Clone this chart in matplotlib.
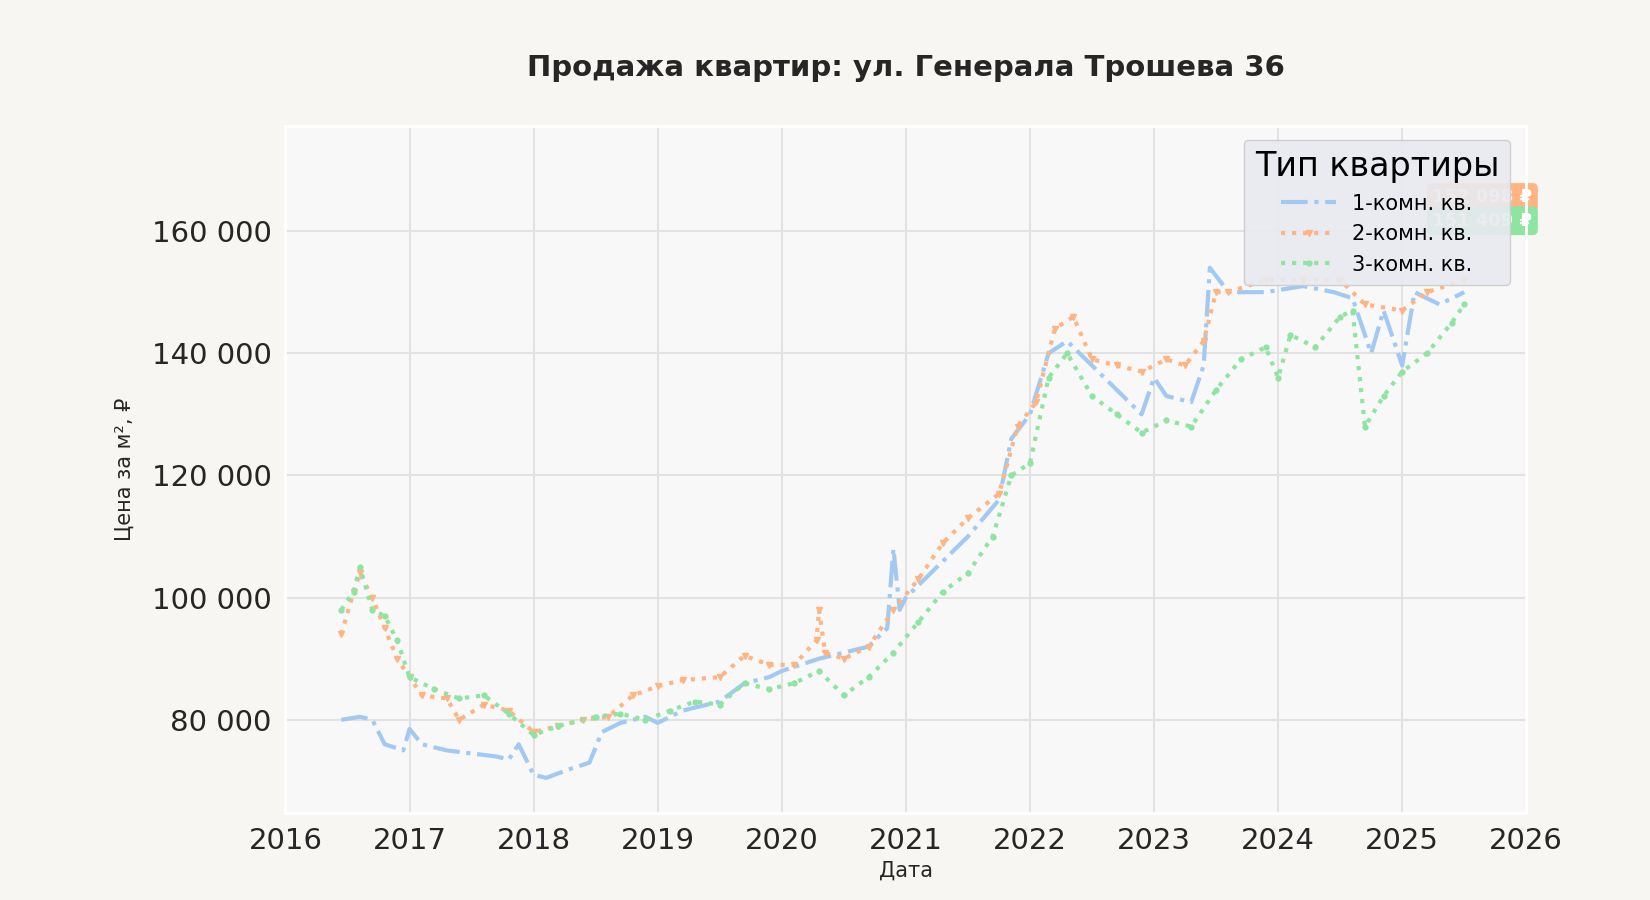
import matplotlib.pyplot as plt
from matplotlib.ticker import FuncFormatter

# даты (десятичные годы) и цены за м²
dates_1 = [2016.45, 2016.6, 2016.7, 2016.8, 2016.95, 2017.0, 2017.1, 2017.3, 2017.5, 2017.7, 2017.8,
           2017.88, 2018.0, 2018.1, 2018.3, 2018.45, 2018.55, 2018.7, 2018.9, 2019.0, 2019.2, 2019.5,
           2019.7, 2019.9, 2020.0, 2020.3, 2020.5, 2020.7, 2020.85, 2020.9, 2020.95, 2021.0, 2021.3,
           2021.5, 2021.75, 2021.85, 2022.0, 2022.15, 2022.3, 2022.5, 2022.7, 2022.9, 2023.0, 2023.1,
           2023.3, 2023.4, 2023.45, 2023.6, 2023.9, 2024.2, 2024.45, 2024.6, 2024.75, 2024.85, 2025.0,
           2025.1, 2025.3, 2025.5]
price_1 = [80000, 80500, 80000, 76000, 75000, 78500, 76000, 75000, 74500, 74000, 73500,
           76000, 71000, 70500, 72000, 73000, 78000, 79500, 80500, 79500, 81500, 83000,
           86000, 87000, 88000, 90000, 91000, 92000, 95000, 108000, 98000, 100000, 106000,
           110000, 116000, 126000, 130000, 140000, 142000, 138000, 134000, 130000, 136000, 133000,
           132000, 138000, 154000, 150000, 150000, 151000, 150000, 149000, 140000, 147000, 138000,
           150000, 148000, 150000]

dates_2 = [2016.45, 2016.55, 2016.6, 2016.7, 2016.8, 2016.9, 2017.0, 2017.1, 2017.3, 2017.4, 2017.6,
           2017.8, 2018.0, 2018.2, 2018.4, 2018.6, 2018.8, 2019.0, 2019.2, 2019.5, 2019.7, 2019.9,
           2020.1, 2020.28, 2020.3, 2020.35, 2020.5, 2020.7, 2020.9, 2021.1, 2021.3, 2021.5, 2021.75,
           2021.9, 2022.05, 2022.2, 2022.35, 2022.5, 2022.7, 2022.9, 2023.1, 2023.25, 2023.4, 2023.5,
           2023.6, 2023.9, 2024.2, 2024.5, 2024.7, 2025.0, 2025.2, 2025.5]
price_2 = [94000, 101000, 104000, 100000, 95000, 90000, 87000, 84000, 83500, 80000, 82500,
           81500, 78000, 79000, 80000, 80500, 84000, 85500, 86500, 87000, 90500, 89000,
           89000, 93000, 98000, 91000, 90000, 92000, 98000, 103000, 109000, 113000, 117000,
           128000, 132000, 144000, 146000, 139000, 138000, 137000, 139000, 138000, 142000, 150000,
           150000, 152000, 152000, 152000, 148000, 147000, 150000, 152000]

dates_3 = [2016.45, 2016.55, 2016.6, 2016.7, 2016.8, 2016.9, 2017.0, 2017.2, 2017.4, 2017.6, 2017.8,
           2018.0, 2018.2, 2018.5, 2018.7, 2018.9, 2019.1, 2019.3, 2019.5, 2019.7, 2019.9, 2020.1,
           2020.3, 2020.5, 2020.7, 2020.9, 2021.1, 2021.3, 2021.5, 2021.7, 2021.85, 2022.0, 2022.15,
           2022.3, 2022.5, 2022.7, 2022.9, 2023.1, 2023.3, 2023.5, 2023.7, 2023.9, 2024.0, 2024.1,
           2024.3, 2024.5, 2024.6, 2024.7, 2024.85, 2025.0, 2025.2, 2025.4, 2025.5]
price_3 = [98000, 101000, 105000, 98000, 97000, 93000, 87000, 85000, 83500, 84000, 81000,
           77500, 79000, 80500, 81000, 80000, 81500, 83000, 82500, 86000, 85000, 86000,
           88000, 84000, 87000, 91000, 96000, 101000, 104000, 110000, 120000, 122000, 136000,
           140000, 133000, 130000, 127000, 129000, 128000, 134000, 139000, 141000, 136000, 143000,
           141000, 146000, 147000, 128000, 133000, 137000, 140000, 145000, 148000]

labels = ["1-комн. кв.", "2-комн. кв.", "3-комн. кв."]
end_labels = ["", "152 098 ₽", "151 409 ₽"]

colors = ["#a1c9f4", "#ffb482", "#8de5a1"]
styles = [dict(linestyle="-.", marker=None),
          dict(linestyle=":", marker="v", markersize=4),
          dict(linestyle=":", marker="o", markersize=3.5)]

plt.rcParams["font.family"] = ["DejaVu Sans"]

fig = plt.figure(figsize=(16.5, 9), dpi=100, facecolor="#f7f6f2")
ax = fig.add_axes([0.173, 0.097, 0.752, 0.763], facecolor="#f8f8f8")

series = [(dates_1, price_1), (dates_2, price_2), (dates_3, price_3)]
for (x, y), lab, c, st in zip(series, labels, colors, styles):
    ax.plot(x, y, color=c, lw=3, label=lab, **st)

# подписи последних значений (под легендой, как в оригинале)
for (x, y), lab, c, off in zip(series, end_labels, colors, [0, 13500, 13700]):
    if lab:
        ax.text(2026.05, y[-1] + off, lab, color="white", fontsize=13, fontweight="bold",
                ha="right", va="center", zorder=2, clip_on=False,
                bbox=dict(boxstyle="round,pad=0.3", facecolor=c, edgecolor="none"))

ax.set_xlim(2016, 2026)
ax.set_ylim(64800, 177200)
ax.set_xticks(range(2016, 2027))
ax.set_yticks([80000, 100000, 120000, 140000, 160000])
ax.yaxis.set_major_formatter(FuncFormatter(lambda v, p: f"{int(v):,}".replace(",", " ")))
ax.tick_params(labelsize=21, colors="#262626", length=0, pad=10)
ax.grid(color="#e2e2e2", lw=1.5)
for s in ax.spines.values():
    s.set_color("white")
    s.set_linewidth(2)

ax.set_xlabel("Дата", fontsize=15, color="#262626", labelpad=4)
ax.set_ylabel("Цена за м², ₽", fontsize=15, color="#262626", labelpad=12)
ax.set_title("Продажа квартир: ул. Генерала Трошева 36", fontsize=21, fontweight="bold",
             color="#262626", pad=36)

leg = ax.legend(title="Тип квартиры", loc="upper right", fontsize=15, title_fontsize=24,
                facecolor="#e8eaf0", edgecolor="#cccccc", framealpha=0.9,
                handlelength=2.6, borderpad=0.5, bbox_to_anchor=(0.995, 0.995))
leg.set_zorder(5)

fig.savefig("out.png", dpi=100, facecolor=fig.get_facecolor())
